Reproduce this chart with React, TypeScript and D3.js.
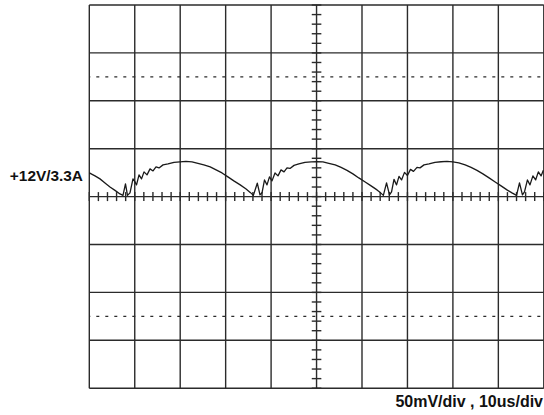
import React from "react";
import * as d3 from "d3";

// scope settings
const xDivs = 10;
const yDivs = 8;
const usPerDiv = 10;
const mvPerDiv = 50;
const channelLabel = "+12V/3.3A";
const scaleLabel = "50mV/div , 10us/div";
// dotted reference levels (mV from centre)
const refLevels = [125, -125];

// trace: time (us) and ripple (mV)
const timeUs = [
  0, 1.25, 2.35, 3.45, 4.55, 5.65, 6.75, 7.41, 7.96, 8.4, 8.95, 9.61, 10.06, 10.39, 10.94,
  11.49, 12.04, 12.7, 13.36, 14.02, 14.68, 15.34, 16.22, 17.32, 18.64, 19.95, 21.27, 22.6,
  23.9, 25.2, 26.6, 27.9, 29.2, 30.5, 31.8, 33.2, 34.5, 35.4, 36.1,
  36.96, 37.56, 38.0, 38.55, 39.1, 39.64, 40.2, 40.86, 41.52, 42.18, 42.84, 43.5, 44.16,
  45.04, 46.1, 47.45, 48.8, 50.1, 51.4, 52.7, 54.1, 55.4, 56.7, 58.0, 59.3, 60.7, 62.0,
  63.3, 64.1, 64.7,
  65.4, 66.05, 66.5, 67.04, 67.6, 68.14, 68.7, 69.35, 70.0, 70.67, 71.33, 72.1, 72.76,
  73.64, 74.74, 76.06, 77.4, 78.7, 80.0, 81.3, 82.7, 84.0, 85.3, 86.6, 87.96, 89.3, 90.6,
  91.9, 93.0, 94.0,
  94.65, 95.3, 95.75, 96.4, 96.96, 97.6, 98.2, 98.8, 99.4, 99.9,
];
const rippleMv = [
  24.7, 21.6, 18.5, 14.3, 10.1, 6.5, 2.8, 1.3, 13.3, 1.3, 3.9, 18.5, 15.3, 12.2, 22.7,
  18.5, 25.8, 22.7, 28.9, 26.8, 31, 29.9, 33.1, 34.1, 35.7, 36.2, 36.7, 36.2,
  34.7, 33.1, 31, 27.9, 24.7, 20.6, 16.4, 12.2, 8.0, 4.4, 1.3,
  14, 1.8, 3.9, 17.4, 12.2, 20.6, 16.4, 24.7, 21.6, 27.9, 25.8, 29.9, 29.4,
  32.6, 34.1, 35.7, 36.2, 36.4, 36.2, 34.7, 33.1, 30.5, 27.4, 23.7, 19.5, 15.3, 11.2,
  7.0, 3.9, 1.3,
  14.3, 1.8, 4.9, 18, 12.2, 21.1, 17.4, 25.3, 22.1, 28.4, 26.3, 30.5, 30,
  33.1, 34.1, 35.7, 36.4, 36.7, 36.2, 35.2, 33.1, 30.5, 27.4, 23.7, 19.5, 15.3, 11.2,
  7.0, 3.9, 1.3,
  14.3, 1.8, 4.9, 17.4, 12.2, 21.6, 17.4, 25.8, 21.6, 27.4,
];

const W = 544;
const H = 415;
const gridColor = "#2b2b2b";

export default function App() {
  const x = d3.scaleLinear().domain([0, xDivs * usPerDiv]).range([89.3, 543.8]);
  const y = d3
    .scaleLinear()
    .domain([(-yDivs / 2) * mvPerDiv, (yDivs / 2) * mvPerDiv])
    .range([388.2, 5]);

  const xMajor = d3.range(0, xDivs + 1).map((i) => i * usPerDiv);
  const yMajor = d3.range(0, yDivs + 1).map((i) => (i - yDivs / 2) * mvPerDiv);
  // 5 minor ticks per division along the centre axes
  const xMinor = d3.range(0, xDivs * 5 + 1).map((i) => (i * usPerDiv) / 5);
  const yMinor = d3.range(0, yDivs * 5 + 1).map((i) => (i * mvPerDiv) / 5 - (yDivs / 2) * mvPerDiv);

  const pts = timeUs.map((t, i) => [t, rippleMv[i]] as [number, number]);
  const line = d3
    .line<[number, number]>()
    .x((d) => x(d[0]))
    .y((d) => y(d[1]));

  const x0 = x(0);
  const x1 = x(xDivs * usPerDiv);
  const y0 = y(0);
  const cx = x((xDivs / 2) * usPerDiv);

  return (
    <svg
      width={W}
      height={H}
      style={{ position: "absolute", left: 0, top: 0, background: "#fff" }}
      fontFamily="'Liberation Sans', Arial, sans-serif"
    >
      {/* grid */}
      <g stroke={gridColor} strokeWidth={1.4}>
        {xMajor.map((v) => (
          <line key={"vx" + v} x1={x(v)} x2={x(v)} y1={y.range()[1]} y2={y.range()[0]} />
        ))}
        {yMajor.map((v) => (
          <line key={"hy" + v} x1={x0} x2={x1} y1={y(v)} y2={y(v)} />
        ))}
      </g>
      {/* dotted reference lines */}
      <g stroke={gridColor} strokeWidth={1.3} strokeDasharray="3,6" strokeDashoffset={-7}>
        {refLevels.map((v) => (
          <line key={"ref" + v} x1={x0} x2={x1} y1={y(v)} y2={y(v)} />
        ))}
      </g>
      {/* centre axis minor ticks */}
      <g stroke={gridColor} strokeWidth={1.4}>
        {xMinor.map((v) => (
          <line key={"tx" + v} x1={x(v)} x2={x(v)} y1={y0 - 4.5} y2={y0 + 4.5} />
        ))}
        {yMinor.map((v) => (
          <line key={"ty" + v} x1={cx - 4.8} x2={cx + 4.8} y1={y(v)} y2={y(v)} />
        ))}
      </g>
      {/* trace */}
      <path d={line(pts) ?? ""} fill="none" stroke="#1a1a1a" strokeWidth={1.3} strokeLinejoin="round" />
      {/* labels */}
      <text x={83} y={181} textAnchor="end" fontSize={15.4} fontWeight="bold" fill="#111">
        {channelLabel}
      </text>
      <text x={543} y={407} textAnchor="end" fontSize={16} fontWeight="bold" fill="#111">
        {scaleLabel}
      </text>
    </svg>
  );
}
